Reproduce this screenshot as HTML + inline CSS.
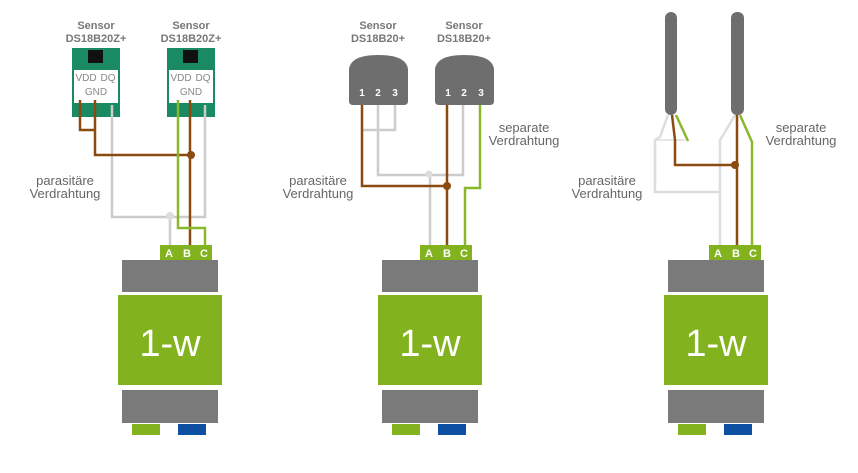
<!DOCTYPE html>
<html><head><meta charset="utf-8"><style>
html,body{margin:0;padding:0;background:#fff;}
svg text{font-family:"Liberation Sans",sans-serif;}
</style></head><body>
<svg width="858" height="468" viewBox="0 0 858 468" xmlns="http://www.w3.org/2000/svg">
<defs>
<g id="mod">
  <rect x="2" y="0" width="96" height="32" fill="#7a7a7a"/>
  <rect x="-2" y="35" width="104" height="90" fill="#82b21e"/>
  <text x="50" y="96" font-size="38" fill="#fff" text-anchor="middle">1-w</text>
  <rect x="2" y="130" width="96" height="33" fill="#7a7a7a"/>
  <rect x="12" y="164" width="28" height="11" fill="#82b21e"/>
  <rect x="58" y="164" width="28" height="11" fill="#0d4fa0"/>
</g>
<g id="abc">
  <rect x="0" y="0" width="52" height="15" fill="#82b21e"/>
  <text x="9" y="12" font-size="11" font-weight="bold" fill="#fff" text-anchor="middle">A</text>
  <text x="27" y="12" font-size="11" font-weight="bold" fill="#fff" text-anchor="middle">B</text>
  <text x="44" y="12" font-size="11" font-weight="bold" fill="#fff" text-anchor="middle">C</text>
</g>
<g id="pcb">
  <rect x="0" y="0" width="48" height="69" fill="#1a8a62"/>
  <rect x="16" y="2" width="15" height="13" fill="#111"/>
  <rect x="2" y="22" width="44" height="33" fill="#fff"/>
  <text x="14" y="33" font-size="10" fill="#888" text-anchor="middle">VDD</text>
  <text x="36" y="33" font-size="10" fill="#888" text-anchor="middle">DQ</text>
  <text x="24" y="47" font-size="10" fill="#888" text-anchor="middle">GND</text>
</g>
<g id="to92">
  <path d="M0 16 Q2 2 29 2 Q57 2 59 16 L59 48 Q59 52 55 52 L4 52 Q0 52 0 48 Z" fill="#6e6e6e"/>
  <text x="13" y="43" font-size="10" font-weight="bold" fill="#fff" text-anchor="middle">1</text>
  <text x="29" y="43" font-size="10" font-weight="bold" fill="#fff" text-anchor="middle">2</text>
  <text x="46" y="43" font-size="10" font-weight="bold" fill="#fff" text-anchor="middle">3</text>
</g>
</defs>
<g font-size="11" fill="#666">
<!-- Panel 1 -->
<text x="96" y="29" text-anchor="middle" font-weight="bold" fill="#777">Sensor</text>
<text x="96" y="42" text-anchor="middle" font-weight="bold" fill="#777">DS18B20Z+</text>
<text x="191" y="29" text-anchor="middle" font-weight="bold" fill="#777">Sensor</text>
<text x="191" y="42" text-anchor="middle" font-weight="bold" fill="#777">DS18B20Z+</text>
<use href="#pcb" x="72" y="48"/><use href="#pcb" x="167" y="48"/>
<g fill="none" stroke-width="2.5">
<polyline points="112,105 112,217 205,217 205,105" stroke="#ccc"/>
<polyline points="170,217 170,250" stroke="#ccc"/>
<polyline points="80,100 80,130 95,130" stroke="#8a4a10"/>
<polyline points="95,100 95,155 191,155" stroke="#8a4a10"/>
<polyline points="190,100 190,250" stroke="#8a4a10"/>
<polyline points="178,100 178,228 205,228 205,250" stroke="#8ab82a"/>
</g>
<circle cx="191" cy="155" r="4" fill="#8a4a10"/>
<circle cx="170" cy="216" r="4" fill="#ddd"/>
<text x="65" y="185" text-anchor="middle" font-size="13">parasitäre</text>
<text x="65" y="198" text-anchor="middle" font-size="13">Verdrahtung</text>
<use href="#abc" x="160" y="245"/>
<use href="#mod" x="120" y="260"/>

<!-- Panel 2 -->
<text x="378" y="29" text-anchor="middle" font-weight="bold" fill="#777">Sensor</text>
<text x="378" y="42" text-anchor="middle" font-weight="bold" fill="#777">DS18B20+</text>
<text x="464" y="29" text-anchor="middle" font-weight="bold" fill="#777">Sensor</text>
<text x="464" y="42" text-anchor="middle" font-weight="bold" fill="#777">DS18B20+</text>
<use href="#to92" x="349" y="53"/><use href="#to92" x="435" y="53"/>
<g fill="none" stroke-width="2.5">
<polyline points="395,105 395,130 362,130" stroke="#ccc"/>
<polyline points="378,105 378,175 463,175 463,105" stroke="#ccc"/>
<polyline points="430,175 430,250" stroke="#ccc"/>
<polyline points="362,105 362,186 447,186" stroke="#8a4a10"/>
<polyline points="447,105 447,250" stroke="#8a4a10"/>
<polyline points="480,105 480,188 465,188 465,250" stroke="#8ab82a"/>
</g>
<circle cx="447" cy="186" r="4" fill="#8a4a10"/>
<circle cx="429" cy="174" r="3.5" fill="#ddd"/>
<text x="318" y="185" text-anchor="middle" font-size="13">parasitäre</text>
<text x="318" y="198" text-anchor="middle" font-size="13">Verdrahtung</text>
<text x="524" y="132" text-anchor="middle" font-size="13">separate</text>
<text x="524" y="145" text-anchor="middle" font-size="13">Verdrahtung</text>
<use href="#abc" x="420" y="245"/>
<use href="#mod" x="380" y="260"/>

<!-- Panel 3 -->
<rect x="665" y="12" width="12" height="103" rx="6" fill="#6e6e6e"/>
<rect x="731" y="12" width="13" height="103" rx="6" fill="#6e6e6e"/>
<g fill="none" stroke-width="2.5">
<polyline points="668,115 660,137 655,140 655,192 720,192" stroke="#ddd"/>
<polyline points="655,140 685,140" stroke="#ddd" stroke-width="1.5"/>
<polyline points="735,115 722,137 720,140 720,250" stroke="#ddd"/>
<polyline points="672,115 675,140 675,165 735,165" stroke="#8a4a10"/>
<polyline points="737,115 737,250" stroke="#8a4a10"/>
<polyline points="676,115 688,141" stroke="#8ab82a"/>
<polyline points="740,115 752,142 752,250" stroke="#8ab82a"/>
</g>
<circle cx="735" cy="165" r="4" fill="#8a4a10"/>
<text x="607" y="185" text-anchor="middle" font-size="13">parasitäre</text>
<text x="607" y="198" text-anchor="middle" font-size="13">Verdrahtung</text>
<text x="801" y="132" text-anchor="middle" font-size="13">separate</text>
<text x="801" y="145" text-anchor="middle" font-size="13">Verdrahtung</text>
<use href="#abc" x="709" y="245"/>
<use href="#mod" x="666" y="260"/>
</g>
</svg>
</body></html>
